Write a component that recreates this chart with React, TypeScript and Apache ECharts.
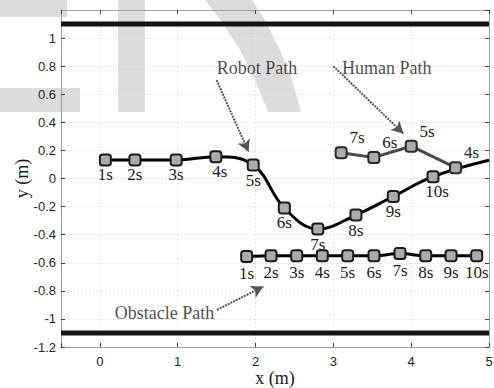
import React, { useEffect, useRef } from "react";
import * as echarts from "echarts";

// ---- data ----
const robotX = [0.07, 0.45, 0.98, 1.49, 1.97, 2.37, 2.8, 3.29, 3.77, 4.28, 5.0];
const robotY = [0.132, 0.132, 0.132, 0.155, 0.096, -0.21, -0.36, -0.26, -0.128, 0.013, 0.13];
const robotLabels = ["1s", "2s", "3s", "4s", "5s", "6s", "7s", "8s", "9s", "10s", ""];

const humanX = [4.57, 4.0, 3.52, 3.1];
const humanY = [0.077, 0.23, 0.15, 0.184];
const humanLabels = ["4s", "5s", "6s", "7s"];

const obstacleX = [1.886, 2.199, 2.529, 2.858, 3.184, 3.522, 3.856, 4.187, 4.512, 4.842];
const obstacleY = [-0.555, -0.55, -0.55, -0.55, -0.55, -0.55, -0.535, -0.55, -0.55, -0.55];
const obstacleLabels = ["1s", "2s", "3s", "4s", "5s", "6s", "7s", "8s", "9s", "10s"];

const wallY = [1.1, -1.1];
const xRange = [-0.5, 5];
const yRange = [-1.2, 1.2];

const annotationTexts = ["Robot Path", "Human Path", "Obstacle Path"];
const annotationAnchor = [
  [1.5, 0.79],
  [3.11, 0.79],
  [0.19, -0.956],
];
const arrowFrom = [
  [1.5, 0.7],
  [3.0, 0.8],
  [1.505, -0.935],
];
const arrowTo = [
  [1.91, 0.19],
  [3.9, 0.32],
  [2.1, -0.77],
];

const serif = "'Liberation Serif', 'Times New Roman', serif";
const sans = "'Liberation Sans', Arial, sans-serif";

export default function App() {
  const ref = useRef<HTMLDivElement>(null);
  useEffect(() => {
    if (!ref.current) return;
    const chart = echarts.init(ref.current, undefined, { renderer: "svg" });

    const timeLabel = (show: boolean, position: any, offset: number[] = [0, 0], distance = 1) => ({
      show,
      position,
      offset,
      distance,
      formatter: "{b}",
      fontFamily: serif,
      fontSize: 17,
      color: "#1a1a1a",
    });

    const markerStyle = { color: "#ababab", borderColor: "#1c1c1c", borderWidth: 2 };

    const robotData = robotX.map((x, i) => ({
      name: robotLabels[i],
      value: [x, robotY[i]],
      symbol: robotLabels[i] ? "roundRect" : "none",
      label: timeLabel(!!robotLabels[i], "bottom", i === 3 || i === 9 ? [4, 0] : [0, 0], 0),
    }));
    const humanData = humanX.map((x, i) => ({
      name: humanLabels[i],
      value: [x, humanY[i]],
      label: timeLabel(true, "top", [16, 0], 0),
    }));
    const obstacleData = obstacleX.map((x, i) => ({
      name: obstacleLabels[i],
      value: [x, obstacleY[i]],
      label: timeLabel(true, "bottom", [0, 0], 2),
    }));

    const axisLineStyle = { color: "#a0a0a0", width: 1 };
    const tickStyle = { show: true, inside: true, length: 4, lineStyle: { color: "#404040" } };

    const option: any = {
      animation: false,
      backgroundColor: "#ffffff",
      grid: { left: 61, right: 5, top: 10, bottom: 41, containLabel: false, outerBoundsMode: "none" },
      graphic: [
        { type: "rect", z: -10, shape: { x: 0, y: 0, width: 67, height: 17 }, style: { fill: "#dcdcdc" } },
        { type: "rect", z: -10, shape: { x: 118, y: 0, width: 27, height: 112 }, style: { fill: "#dcdcdc" } },
        { type: "rect", z: -10, shape: { x: 0, y: 88, width: 80, height: 24 }, style: { fill: "#dcdcdc" } },
        {
          type: "polygon",
          z: -10,
          shape: {
            points: [
              [205, 0], [252, 0], [266, 22], [280, 50], [292, 80], [301, 112], [268, 112], [256, 82], [240, 50], [222, 22],
            ],
          },
          style: { fill: "#dcdcdc" },
        },
      ],
      xAxis: [
        {
          type: "value",
          min: xRange[0],
          max: xRange[1],
          name: "x (m)",
          nameLocation: "middle",
          nameGap: 22,
          nameMoveOverlap: false,
          nameTextStyle: { fontFamily: serif, fontSize: 18, color: "#1a1a1a" },
          axisLine: { show: true, onZero: false, lineStyle: axisLineStyle },
          axisTick: tickStyle,
          axisLabel: {
            margin: 8,
            fontFamily: sans,
            fontSize: 13,
            color: "#262626",
            formatter: (v: number) => (Number.isInteger(v) ? String(v) : ""),
          },
          splitLine: { show: true, lineStyle: { color: "#e4e4e4", type: [2, 2], width: 1 } },
        },
        {
          type: "value",
          position: "top",
          min: xRange[0],
          max: xRange[1],
          axisLine: { show: true, onZero: false, lineStyle: axisLineStyle },
          axisTick: tickStyle,
          axisLabel: { show: false },
          splitLine: { show: false },
        },
      ],
      yAxis: [
        {
          type: "value",
          min: yRange[0],
          max: yRange[1],
          interval: 0.2,
          name: "y (m)",
          nameLocation: "middle",
          nameGap: 30,
          nameMoveOverlap: false,
          nameTextStyle: { fontFamily: serif, fontSize: 18, color: "#1a1a1a" },
          axisLine: { show: true, onZero: false, lineStyle: axisLineStyle },
          axisTick: tickStyle,
          axisLabel: {
            margin: 5,
            fontFamily: sans,
            fontSize: 13,
            color: "#262626",
            showMaxLabel: false,
            formatter: (v: number) => {
              const r = Math.round(v * 10) / 10;
              if (r >= 1.19) return "";
              return String(r);
            },
          },
          splitLine: { show: true, lineStyle: { color: "#e4e4e4", type: [2, 2], width: 1 } },
        },
        {
          type: "value",
          position: "right",
          min: yRange[0],
          max: yRange[1],
          interval: 0.2,
          axisLine: { show: true, onZero: false, lineStyle: axisLineStyle },
          axisTick: tickStyle,
          axisLabel: { show: false },
          splitLine: { show: false },
        },
      ],
      series: [
        ...wallY.map((wy, i) => ({
          name: "wall" + i,
          type: "line",
          data: [
            [xRange[0], wy],
            [xRange[1], wy],
          ],
          symbol: "none",
          lineStyle: { color: "#141414", width: 5 },
          z: 3,
        })),
        {
          name: "Robot",
          type: "line",
          data: robotData,
          smooth: 0.4,
          symbol: "roundRect",
          symbolSize: 11,
          showAllSymbol: true,
          lineStyle: { color: "#000000", width: 3 },
          itemStyle: markerStyle,
          z: 5,
        },
        {
          name: "Human",
          type: "line",
          data: humanData,
          symbol: "roundRect",
          symbolSize: 11,
          lineStyle: { color: "#4a4a4a", width: 3 },
          itemStyle: { color: "#ababab", borderColor: "#2a2a2a", borderWidth: 2 },
          z: 6,
        },
        {
          name: "Obstacle",
          type: "line",
          data: obstacleData,
          smooth: 0.3,
          symbol: "roundRect",
          symbolSize: 11,
          lineStyle: { color: "#000000", width: 3 },
          itemStyle: markerStyle,
          z: 5,
          markLine: {
            silent: true,
            symbol: ["none", "arrow"],
            symbolSize: [10, 12],
            label: { show: false },
            lineStyle: { color: "#555555", width: 2, type: [2, 1] },
            data: arrowFrom.map((f, i) => [{ coord: f }, { coord: arrowTo[i] }]),
          },
        },
        {
          name: "annotations",
          type: "scatter",
          symbolSize: 0,
          data: annotationTexts.map((t, i) => ({ value: annotationAnchor[i], name: t })),
          label: {
            show: true,
            position: "right",
            distance: 0,
            formatter: (p: any) => p.name,
            fontFamily: serif,
            fontSize: 18,
            color: "#1a1a1a",
          },
          z: 7,
        },
      ],
    };
    chart.setOption(option);
    return () => chart.dispose();
  }, []);
  return (
    <div
      ref={ref}
      style={{ position: "fixed", left: 0, top: 0, width: 494, height: 388 }}
    />
  );
}
